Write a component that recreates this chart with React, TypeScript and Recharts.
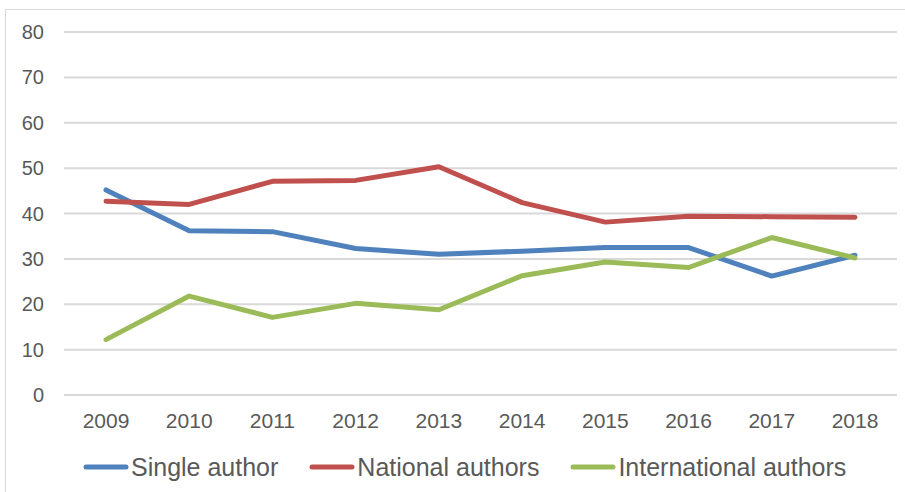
import { LineChart, Line, XAxis, YAxis, CartesianGrid, Legend } from 'recharts';

const years = ['2009', '2010', '2011', '2012', '2013', '2014', '2015', '2016', '2017', '2018'];
const singleAuthor = [45.2, 36.2, 36.0, 32.3, 31.0, 31.7, 32.5, 32.5, 26.2, 30.8];
const nationalAuthors = [42.7, 42.0, 47.1, 47.3, 50.3, 42.4, 38.1, 39.4, 39.3, 39.2];
const internationalAuthors = [12.2, 21.8, 17.1, 20.2, 18.8, 26.3, 29.3, 28.1, 34.7, 30.2];
const yTicks = [0, 10, 20, 30, 40, 50, 60, 70, 80];

const series = [
  { key: 'single', name: 'Single author', color: '#4F81BD' },
  { key: 'national', name: 'National authors', color: '#C0504D' },
  { key: 'international', name: 'International authors', color: '#9BBB59' },
];

const data = years.map((year, i) => ({
  year,
  single: singleAuthor[i],
  national: nationalAuthors[i],
  international: internationalAuthors[i],
}));

const FONT = '"Liberation Sans", Arial, sans-serif';
const TEXT = '#595959';

function LegendContent() {
  return (
    <div style={{ height: 46, paddingBottom: 4, boxSizing: 'border-box', display: 'flex', alignItems: 'center', paddingLeft: 83, fontFamily: FONT, fontSize: 25, color: TEXT }}>
      {series.map((s, i) => (
        <div key={s.key} style={{ display: 'flex', alignItems: 'center', marginRight: i < series.length - 1 ? 31 : 0 }}>
          <svg width={46} height={8} style={{ marginRight: 2 }}>
            <line x1={3} y1={4} x2={43} y2={4} stroke={s.color} strokeWidth={5} strokeLinecap="round" />
          </svg>
          <span>{s.name}</span>
        </div>
      ))}
    </div>
  );
}

export default function App() {
  return (
    <div style={{ position: 'absolute', left: 0, top: 0, width: 905, height: 492, background: '#fff' }}>
      <div style={{ position: 'absolute', left: 5, top: 9, right: 0, bottom: 0, borderLeft: '1.5px solid #d9d9d9', borderTop: '1.5px solid #d9d9d9' }} />
      <LineChart width={905} height={492} data={data} margin={{ top: 32, right: 8, left: 0, bottom: 0 }}>
        <CartesianGrid vertical={false} stroke="#d9d9d9" strokeWidth={2} />
        <XAxis
          dataKey="year"
          axisLine={false}
          tickLine={false}
          height={51}
          tickMargin={12}
          padding={{ left: 42, right: 42 }}
          tick={{ fill: TEXT, fontSize: 21, fontFamily: FONT }}
        />
        <YAxis
          domain={[0, 80]}
          ticks={yTicks}
          axisLine={false}
          tickLine={false}
          width={64}
          tickMargin={14}
          tick={{ fill: TEXT, fontSize: 20, fontFamily: FONT }}
        />
        <Legend verticalAlign="bottom" content={<LegendContent />} wrapperStyle={{ left: 0, width: 905 }} />
        {series.map((s) => (
          <Line
            key={s.key}
            type="linear"
            dataKey={s.key}
            name={s.name}
            stroke={s.color}
            strokeWidth={5}
            dot={false}
            strokeLinecap="round"
            strokeLinejoin="round"
            isAnimationActive={false}
          />
        ))}
      </LineChart>
    </div>
  );
}
